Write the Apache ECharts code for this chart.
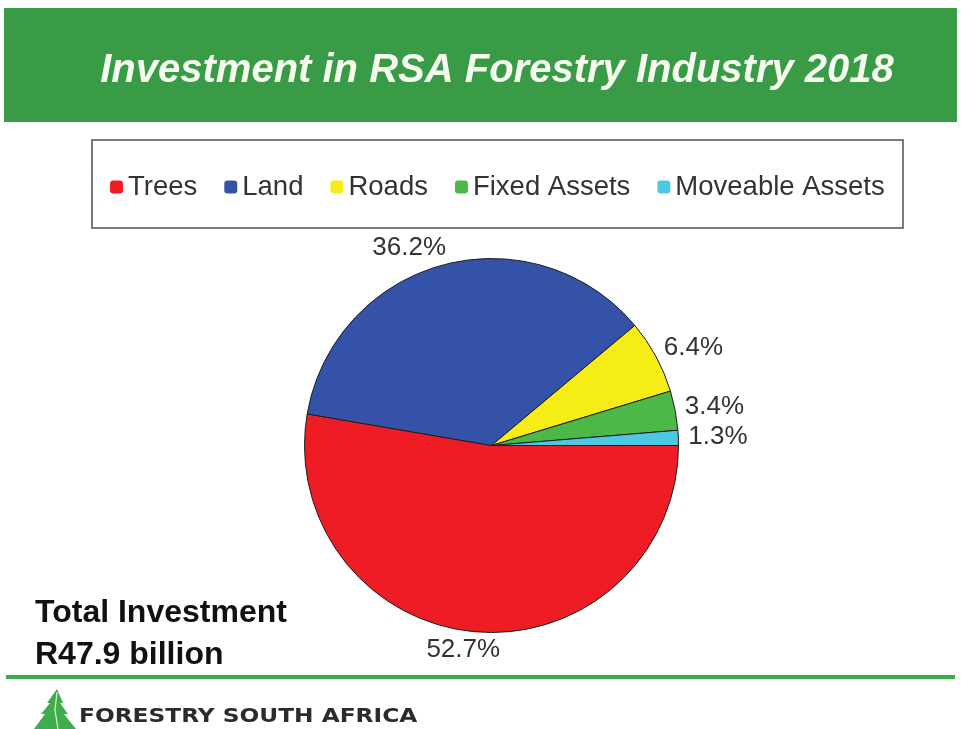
<!DOCTYPE html>
<html>
<head>
<meta charset="utf-8">
<title>Investment in RSA Forestry Industry 2018</title>
<script src="https://cdn.jsdelivr.net/npm/echarts@6/dist/echarts.min.js"></script>
<style>
  html, body { margin: 0; padding: 0; background: #ffffff; }
  #chart { width: 961px; height: 729px; }
</style>
</head>
<body>
<div id="chart"></div>
<script>
// Shares of total investment (percent)
const categories = ['Trees', 'Land', 'Roads', 'Fixed Assets', 'Moveable Assets'];
const shares = [52.7, 36.2, 6.4, 3.4, 1.3];
const sliceColors = ['#ee1d25', '#3453a8', '#f6ec16', '#4cb848', '#4cc8e2'];

const titleText = 'Investment in RSA Forestry Industry 2018';
const totalLines = ['Total Investment', 'R47.9 billion'];
const footerText = 'FORESTRY SOUTH AFRICA';

const SANS = '"Liberation Sans", Arial, sans-serif';

const pieData = categories.map(function (name, i) {
  const item = { name: name, value: shares[i], itemStyle: { color: sliceColors[i] } };
  // the big bottom label sits a little further right
  if (i === 0) item.labelLine = { length2: -26 };
  return item;
});

const chart = echarts.init(document.getElementById('chart'), null, { renderer: 'canvas' });

chart.setOption({
  animation: false,
  backgroundColor: '#ffffff',
  title: {
    text: titleText,
    left: 492,
    top: 46,
    textAlign: 'center',
    textStyle: {
      color: '#f5fbee',
      fontFamily: SANS,
      fontSize: 40,
      fontWeight: 'bold',
      fontStyle: 'italic'
    }
  },
  legend: {
    data: categories,
    left: 105,
    top: 168,
    orient: 'horizontal',
    icon: 'roundRect',
    itemWidth: 13,
    itemHeight: 13,
    itemGap: 27,
    itemStyle: { borderWidth: 0 },
    textStyle: {
      color: '#333333',
      fontFamily: SANS,
      fontSize: 27.5
    },
    selectedMode: false
  },
  graphic: [
    // green header band
    { type: 'rect', z: -1, shape: { x: 4, y: 8, width: 953, height: 114 },
      style: { fill: '#3a9b47' } },
    // legend frame
    { type: 'rect', z: -1, shape: { x: 92, y: 140, width: 811, height: 88 },
      style: { fill: '#ffffff', stroke: '#7a7a7a', lineWidth: 2 } },
    // total investment note
    { type: 'text', left: 35, top: 592,
      style: { text: totalLines.join('\n'), fill: '#111111', font: 'bold 32px ' + SANS,
               lineHeight: 42 } },
    // footer rule
    { type: 'rect', shape: { x: 6, y: 675, width: 949, height: 4 },
      style: { fill: '#3cae48' } },
    // footer tree logo
    { type: 'polygon',
      shape: { points: [[57, 689], [63, 703], [60, 703], [68, 714], [64, 714], [76, 729],
                        [34, 729], [45, 714], [41, 714], [50, 703], [47, 703]] },
      style: { fill: '#3fae4a' } },
    { type: 'polyline',
      shape: { points: [[57, 692], [55, 710], [58, 729]] },
      style: { stroke: '#d9f2d9', lineWidth: 1.2, fill: null } },
    // footer wordmark
    { type: 'text', x: 79, y: 708, scaleX: 1.225,
      style: { text: footerText, fill: '#2b2b2b', font: 'bold 19px "DejaVu Sans", sans-serif' } }
  ],
  series: [{
    type: 'pie',
    center: [491.5, 445.5],
    radius: 187,
    startAngle: 0,
    clockwise: true,
    avoidLabelOverlap: false,
    silent: true,
    itemStyle: { borderColor: '#1e1e1e', borderWidth: 1 },
    label: {
      show: true,
      position: 'outside',
      distanceToLabelLine: 0,
      color: '#333333',
      fontFamily: SANS,
      fontSize: 26,
      formatter: function (p) { return p.value.toFixed(1) + '%'; }
    },
    labelLine: { show: false, length: 18, length2: -8 },
    data: pieData
  }]
});
</script>
</body>
</html>
